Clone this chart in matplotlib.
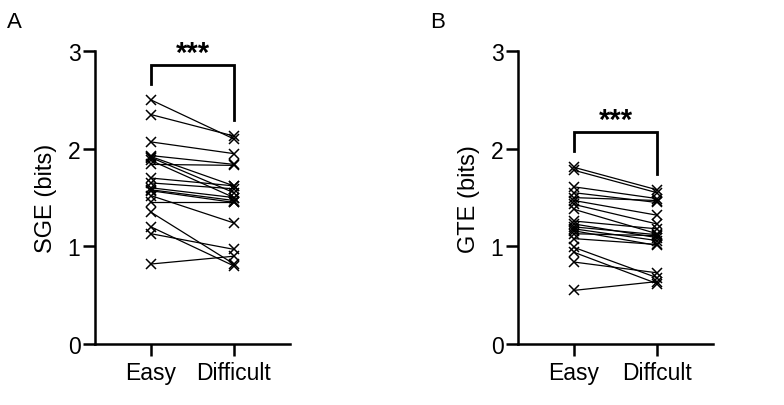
import matplotlib.pyplot as plt

plt.rcParams['font.family'] = ['Liberation Sans', 'DejaVu Sans']

conditions_a = ["Easy", "Difficult"]
conditions_b = ["Easy", "Diffcult"]

sge_easy = [2.50, 2.35, 2.07, 1.93, 1.92, 1.91, 1.88, 1.84, 1.70, 1.65,
            1.60, 1.58, 1.57, 1.52, 1.45, 1.35, 1.20, 1.13, 0.82]
sge_difficult = [2.10, 2.13, 1.95, 1.84, 1.62, 1.55, 1.50, 1.83, 1.62, 1.59,
                 1.50, 1.47, 1.45, 1.24, 1.45, 0.82, 0.80, 0.97, 0.90]

gte_easy = [1.81, 1.78, 1.61, 1.55, 1.50, 1.47, 1.43, 1.38, 1.26, 1.23,
            1.20, 1.18, 1.16, 1.13, 1.08, 0.99, 0.94, 0.84, 0.55]
gte_difficult = [1.58, 1.55, 1.49, 1.45, 1.47, 1.32, 1.23, 1.13, 1.18, 1.09,
                 1.12, 1.06, 1.01, 1.11, 1.02, 0.68, 0.62, 0.73, 0.64]


def draw_panel(ax, easy, hard, names, ylabel, bracket, star_y):
    for e, h in zip(easy, hard):
        ax.plot([0, 1], [e, h], color="black", lw=0.9, marker="x",
                markersize=7, markeredgewidth=1.1, clip_on=False)

    top, left_end, right_end = bracket
    ax.plot([0, 0, 1, 1], [left_end, top, top, right_end], color="black",
            lw=2, clip_on=False, solid_joinstyle="miter")
    ax.text(0.5, star_y, "***", ha="center", va="center", fontsize=21,
            fontweight="bold")

    ax.set_xlim(-0.675, 1.675)
    ax.set_ylim(0, 3)
    ax.set_yticks([0, 1, 2, 3])
    ax.set_xticks([0, 1])
    ax.set_xticklabels(names)
    ax.set_ylabel(ylabel, fontsize=17, labelpad=8)
    ax.spines["top"].set_visible(False)
    ax.spines["right"].set_visible(False)
    for s in ["left", "bottom"]:
        ax.spines[s].set_linewidth(1.8)
    ax.tick_params(width=1.8, length=8.5, labelsize=16.5)
    ax.tick_params(axis="y", pad=2)
    ax.tick_params(axis="x", pad=4)


fig = plt.figure(figsize=(7.84, 4.06), dpi=100)
ax1 = fig.add_axes([0.1212, 0.150, 0.2487, 0.7217])
ax2 = fig.add_axes([0.6607, 0.150, 0.2487, 0.7217])

draw_panel(ax1, sge_easy, sge_difficult, conditions_a, "SGE (bits)",
           (2.86, 2.66, 2.29), 2.98)
draw_panel(ax2, gte_easy, gte_difficult, conditions_b, "GTE (bits)",
           (2.17, 1.98, 1.74), 2.30)

fig.text(0.009, 0.945, "A", fontsize=16, va="center")
fig.text(0.549, 0.945, "B", fontsize=16, va="center")

fig.savefig("out.png", dpi=100)
